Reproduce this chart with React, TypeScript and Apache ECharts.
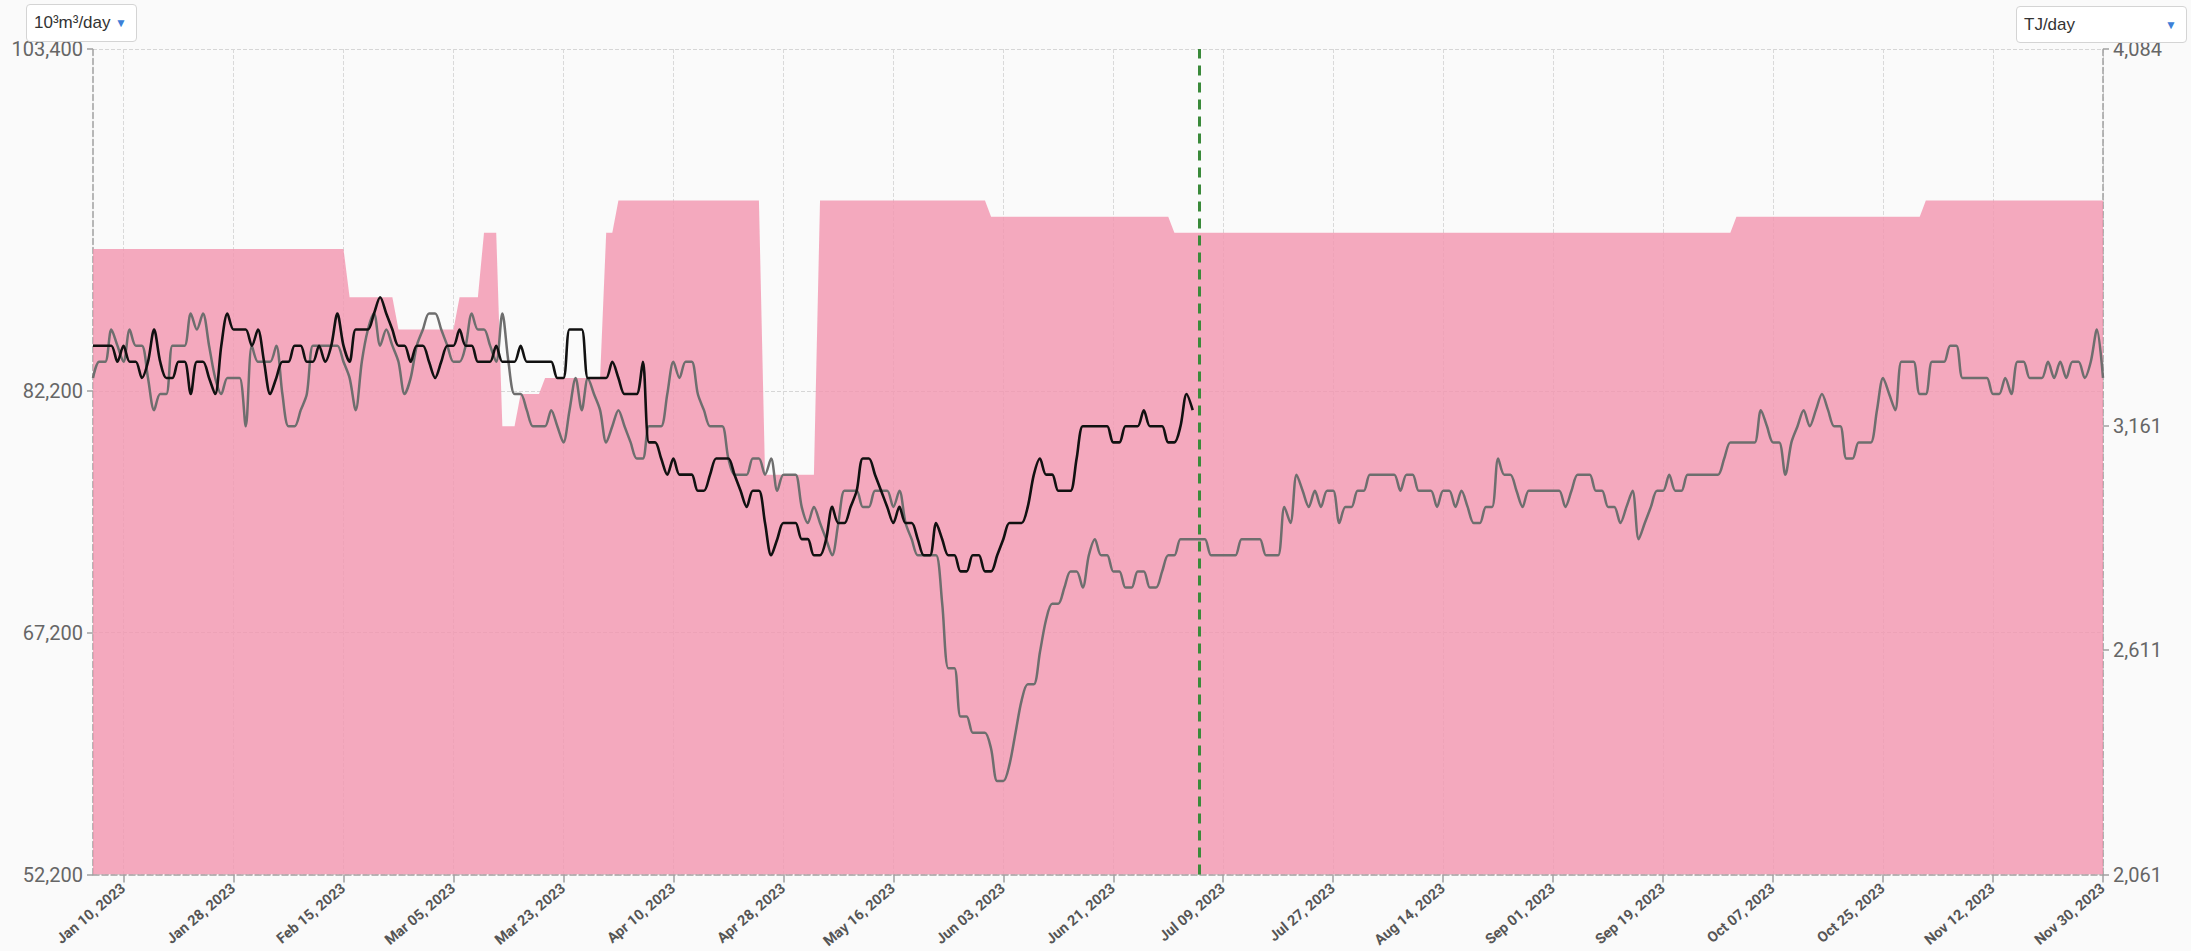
import React, { useEffect, useRef } from "react";
import * as echarts from "echarts";

// ---------- data ----------
const START_DATE = "2023-01-05";
const DAY_COUNT = 330; // Jan 05, 2023 .. Nov 30, 2023
const TODAY = "2023-07-05";

const leftTicks = [52200, 67200, 82200, 103400];
const rightTicks = [2061, 2611, 3161, 4084];

const MONTHS = ["Jan", "Feb", "Mar", "Apr", "May", "Jun", "Jul", "Aug", "Sep", "Oct", "Nov", "Dec"];

const dates: string[] = (() => {
  const out: string[] = [];
  const t0 = Date.parse(START_DATE + "T00:00:00Z");
  for (let i = 0; i < DAY_COUNT; i++) {
    out.push(new Date(t0 + i * 86400000).toISOString().slice(0, 10));
  }
  return out;
})();

// pink area (capacity), 10^3 m3/day
const capacity = [
  91000, 91000, 91000, 91000, 91000, 91000, 91000, 91000, 91000, 91000,
  91000, 91000, 91000, 91000, 91000, 91000, 91000, 91000, 91000, 91000,
  91000, 91000, 91000, 91000, 91000, 91000, 91000, 91000, 91000, 91000,
  91000, 91000, 91000, 91000, 91000, 91000, 91000, 91000, 91000, 91000,
  91000, 91000, 88000, 88000, 88000, 88000, 88000, 88000, 88000, 88000,
  86000, 86000, 86000, 86000, 86000, 86000, 86000, 86000, 86000, 86000,
  88000, 88000, 88000, 88000, 92000, 92000, 92000, 80000, 80000, 80000,
  82000, 82000, 82000, 82000, 83000, 83000, 83000, 83000, 83000, 83000,
  83000, 83000, 83000, 83000, 92000, 92000, 94000, 94000, 94000, 94000,
  94000, 94000, 94000, 94000, 94000, 94000, 94000, 94000, 94000, 94000,
  94000, 94000, 94000, 94000, 94000, 94000, 94000, 94000, 94000, 94000,
  77000, 77000, 77000, 77000, 77000, 77000, 77000, 77000, 77000, 94000,
  94000, 94000, 94000, 94000, 94000, 94000, 94000, 94000, 94000, 94000,
  94000, 94000, 94000, 94000, 94000, 94000, 94000, 94000, 94000, 94000,
  94000, 94000, 94000, 94000, 94000, 94000, 94000, 93000, 93000, 93000,
  93000, 93000, 93000, 93000, 93000, 93000, 93000, 93000, 93000, 93000,
  93000, 93000, 93000, 93000, 93000, 93000, 93000, 93000, 93000, 93000,
  93000, 93000, 93000, 93000, 93000, 93000, 93000, 92000, 92000, 92000,
  92000, 92000, 92000, 92000, 92000, 92000, 92000, 92000, 92000, 92000,
  92000, 92000, 92000, 92000, 92000, 92000, 92000, 92000, 92000, 92000,
  92000, 92000, 92000, 92000, 92000, 92000, 92000, 92000, 92000, 92000,
  92000, 92000, 92000, 92000, 92000, 92000, 92000, 92000, 92000, 92000,
  92000, 92000, 92000, 92000, 92000, 92000, 92000, 92000, 92000, 92000,
  92000, 92000, 92000, 92000, 92000, 92000, 92000, 92000, 92000, 92000,
  92000, 92000, 92000, 92000, 92000, 92000, 92000, 92000, 92000, 92000,
  92000, 92000, 92000, 92000, 92000, 92000, 92000, 92000, 92000, 92000,
  92000, 92000, 92000, 92000, 92000, 92000, 92000, 92000, 92000, 93000,
  93000, 93000, 93000, 93000, 93000, 93000, 93000, 93000, 93000, 93000,
  93000, 93000, 93000, 93000, 93000, 93000, 93000, 93000, 93000, 93000,
  93000, 93000, 93000, 93000, 93000, 93000, 93000, 93000, 93000, 93000,
  94000, 94000, 94000, 94000, 94000, 94000, 94000, 94000, 94000, 94000,
  94000, 94000, 94000, 94000, 94000, 94000, 94000, 94000, 94000, 94000,
  94000, 94000, 94000, 94000, 94000, 94000, 94000, 94000, 94000, 94000,
];

// black line (actual), ends Jul 04
const actual = [
  85000, 85000, 85000, 85000, 84000, 85000, 84000, 84000, 83000, 84000,
  86000, 84000, 83000, 83000, 84000, 84000, 82000, 84000, 84000, 83000,
  82000, 85000, 87000, 86000, 86000, 86000, 85000, 86000, 84000, 82000,
  83000, 84000, 84000, 85000, 85000, 84000, 84000, 85000, 84000, 85000,
  87000, 85000, 84000, 86000, 86000, 86000, 87000, 88000, 87000, 86000,
  85000, 85000, 84000, 85000, 85000, 84000, 83000, 84000, 85000, 85000,
  86000, 85000, 85000, 84000, 84000, 84000, 85000, 84000, 84000, 84000,
  85000, 84000, 84000, 84000, 84000, 84000, 83000, 83000, 86000, 86000,
  86000, 83000, 83000, 83000, 83000, 84000, 83000, 82000, 82000, 82000,
  84000, 79000, 79000, 78000, 77000, 78000, 77000, 77000, 77000, 76000,
  76000, 77000, 78000, 78000, 78000, 77000, 76000, 75000, 76000, 76000,
  74000, 72000, 73000, 74000, 74000, 74000, 73000, 73000, 72000, 72000,
  73000, 75000, 74000, 74000, 75000, 76000, 78000, 78000, 77000, 76000,
  75000, 74000, 75000, 74000, 74000, 73000, 72000, 72000, 74000, 73000,
  72000, 72000, 71000, 71000, 72000, 72000, 71000, 71000, 72000, 73000,
  74000, 74000, 74000, 75000, 77000, 78000, 77000, 77000, 76000, 76000,
  76000, 78000, 80000, 80000, 80000, 80000, 80000, 79000, 79000, 80000,
  80000, 80000, 81000, 80000, 80000, 80000, 79000, 79000, 80000, 82000,
  81000,
];

// grey line (forecast / last year)
const forecast = [
  83000, 84000, 84000, 86000, 85000, 84000, 86000, 85000, 85000, 83000,
  81000, 82000, 82000, 85000, 85000, 85000, 87000, 86000, 87000, 85000,
  83000, 82000, 83000, 83000, 83000, 80000, 85000, 84000, 84000, 84000,
  85000, 82000, 80000, 80000, 81000, 82000, 85000, 85000, 85000, 85000,
  85000, 84000, 83000, 81000, 84000, 86000, 87000, 85000, 86000, 85000,
  84000, 82000, 83000, 85000, 86000, 87000, 87000, 86000, 85000, 84000,
  84000, 85000, 87000, 86000, 86000, 85000, 84000, 87000, 84000, 82000,
  82000, 81000, 80000, 80000, 80000, 81000, 80000, 79000, 81000, 83000,
  81000, 83000, 82000, 81000, 79000, 80000, 81000, 80000, 79000, 78000,
  78000, 80000, 80000, 80000, 82000, 84000, 83000, 84000, 84000, 82000,
  81000, 80000, 80000, 80000, 78000, 77000, 77000, 77000, 78000, 78000,
  77000, 78000, 76000, 77000, 77000, 77000, 75000, 74000, 75000, 74000,
  73000, 72000, 74000, 76000, 76000, 76000, 75000, 75000, 76000, 76000,
  76000, 75000, 76000, 74000, 73000, 72000, 72000, 72000, 72000, 69000,
  65000, 65000, 62000, 62000, 61000, 61000, 61000, 60000, 58000, 58000,
  59000, 61000, 63000, 64000, 64000, 66000, 68000, 69000, 69000, 70000,
  71000, 71000, 70000, 72000, 73000, 72000, 72000, 71000, 71000, 70000,
  70000, 71000, 71000, 70000, 70000, 71000, 72000, 72000, 73000, 73000,
  73000, 73000, 73000, 72000, 72000, 72000, 72000, 72000, 73000, 73000,
  73000, 73000, 72000, 72000, 72000, 75000, 74000, 77000, 76000, 75000,
  76000, 75000, 76000, 76000, 74000, 75000, 75000, 76000, 76000, 77000,
  77000, 77000, 77000, 77000, 76000, 77000, 77000, 76000, 76000, 76000,
  75000, 76000, 76000, 75000, 76000, 75000, 74000, 74000, 75000, 75000,
  78000, 77000, 77000, 76000, 75000, 76000, 76000, 76000, 76000, 76000,
  76000, 75000, 76000, 77000, 77000, 77000, 76000, 76000, 75000, 75000,
  74000, 75000, 76000, 73000, 74000, 75000, 76000, 76000, 77000, 76000,
  76000, 77000, 77000, 77000, 77000, 77000, 77000, 78000, 79000, 79000,
  79000, 79000, 79000, 81000, 80000, 79000, 79000, 77000, 79000, 80000,
  81000, 80000, 81000, 82000, 81000, 80000, 80000, 78000, 78000, 79000,
  79000, 79000, 81000, 83000, 82000, 81000, 84000, 84000, 84000, 82000,
  82000, 84000, 84000, 84000, 85000, 85000, 83000, 83000, 83000, 83000,
  83000, 82000, 82000, 83000, 82000, 84000, 84000, 83000, 83000, 83000,
  84000, 83000, 84000, 83000, 84000, 84000, 83000, 84000, 86000, 83000,
];

// ---------- helpers ----------
const LABEL_FIRST = 5;
const LABEL_STEP = 18;
const showIdx = (index: number) => index >= LABEL_FIRST && (index - LABEL_FIRST) % LABEL_STEP === 0;

const fmtDate = (v: string) => {
  const [y, m, d] = v.split("-");
  return `${MONTHS[parseInt(m, 10) - 1]} ${d}, ${y}`;
};
const fmtNum = (v: number) => Math.round(v).toLocaleString("en-US");

const AXIS_GREY = "#a0a0a0";
const LABEL_FONT = "Roboto, 'Liberation Sans', Arial, sans-serif";
const PINK = "rgba(243,149,175,0.8)";

function Dropdown(props: { left: number; top: number; width: number; height: number; text: React.ReactNode }) {
  return (
    <div
      style={{
        position: "absolute",
        left: props.left,
        top: props.top,
        width: props.width,
        height: props.height,
        boxSizing: "border-box",
        border: "1px solid #d4d4d4",
        borderRadius: 4,
        background: "#ffffff",
        fontFamily: "'Liberation Sans', Arial, sans-serif",
        fontSize: 17,
        color: "#333",
        display: "flex",
        alignItems: "center",
        paddingLeft: 7,
        zIndex: 2,
      }}
    >
      <span>{props.text}</span>
      <span style={{ position: "absolute", right: 9, top: "50%", transform: "translateY(-52%)", color: "#3d7fd8", fontSize: 12 }}>▼</span>
    </div>
  );
}

export default function App() {
  const ref = useRef<HTMLDivElement>(null);

  useEffect(() => {
    if (!ref.current) return;
    const chart = echarts.init(ref.current, undefined, { renderer: "svg" });
    const option: any = {
      animation: false,
      backgroundColor: "transparent",
      grid: { left: 93, right: 88, top: 49, bottom: 76, containLabel: false },
      xAxis: {
        type: "category",
        data: dates,
        boundaryGap: false,
        axisLine: { show: true, lineStyle: { color: AXIS_GREY, type: "dashed", width: 1.5 } },
        axisTick: { show: true, interval: showIdx, length: 8, lineStyle: { color: AXIS_GREY, width: 1.5 } },
        axisLabel: {
          interval: showIdx,
          rotate: 40,
          formatter: fmtDate,
          color: "#555",
          fontSize: 14.5,
          fontWeight: "bold",
          fontFamily: LABEL_FONT,
          margin: 12,
        },
        splitLine: { show: true, interval: showIdx, lineStyle: { color: "#d9d9d9", type: "dashed", width: 1 } },
      },
      yAxis: [
        {
          type: "value",
          position: "left",
          min: 52200,
          max: 103400,
          interval: 15000,
          axisLine: { show: true, lineStyle: { color: AXIS_GREY, type: "dashed", width: 1.5 } },
          axisTick: { show: true, length: 6, customValues: leftTicks, lineStyle: { color: AXIS_GREY, width: 1.5 } },
          axisLabel: { customValues: leftTicks, formatter: fmtNum, color: "#666", fontSize: 20, fontFamily: LABEL_FONT, margin: 10 },
          splitLine: { show: true, lineStyle: { color: "#d6d6d6", type: "dashed", width: 1 } },
        },
        {
          type: "value",
          position: "right",
          min: 2061,
          max: 4084,
          interval: 550,
          axisLine: { show: true, lineStyle: { color: AXIS_GREY, type: "dashed", width: 1.5 } },
          axisTick: { show: true, length: 6, customValues: rightTicks, lineStyle: { color: AXIS_GREY, width: 1.5 } },
          axisLabel: { customValues: rightTicks, formatter: fmtNum, color: "#666", fontSize: 20, fontFamily: LABEL_FONT, margin: 10 },
          splitLine: { show: false },
        },
      ],
      series: [
        {
          name: "Capacity",
          type: "line",
          data: capacity,
          yAxisIndex: 0,
          symbol: "none",
          smooth: false,
          lineStyle: { width: 0, color: PINK },
          areaStyle: { color: PINK, opacity: 1, origin: "start" },
          z: 1,
          markLine: {
            silent: true,
            symbol: ["none", "none"],
            label: { show: false },
            lineStyle: { color: "#3a8a3a", type: [10, 7], width: 3 },
            data: [{ xAxis: TODAY }],
          },
        },
        {
          name: "Forecast",
          type: "line",
          data: forecast,
          yAxisIndex: 0,
          symbol: "none",
          smooth: 0.3,
          lineStyle: { color: "#6e6e6e", width: 2.5 },
          z: 3,
        },
        {
          name: "Actual",
          type: "line",
          data: actual,
          yAxisIndex: 0,
          symbol: "none",
          smooth: 0.3,
          lineStyle: { color: "#111111", width: 2.6 },
          z: 4,
        },
      ],
    };
    chart.setOption(option);
    return () => chart.dispose();
  }, []);

  return (
    <div style={{ position: "fixed", left: 0, top: 0, width: 2191, height: 951, background: "#fafafa", overflow: "hidden" }}>
      <div ref={ref} style={{ position: "absolute", left: 0, top: 0, width: 2191, height: 951 }} />
      <Dropdown left={26} top={4} width={111} height={38} text={<>10³m³/day</>} />
      <Dropdown left={2016} top={6} width={171} height={37} text={<>TJ/day</>} />
    </div>
  );
}
